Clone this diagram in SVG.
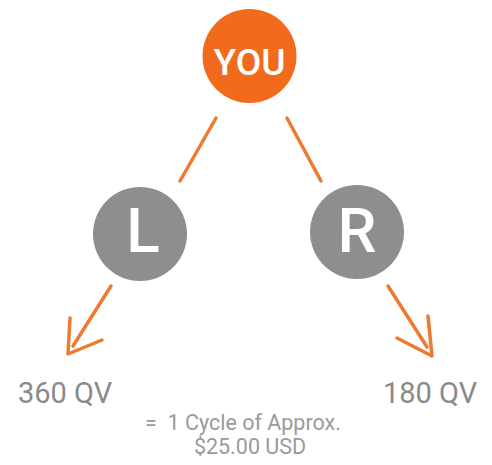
<svg xmlns="http://www.w3.org/2000/svg" width="492" height="465" viewBox="0 0 492 465">
<style>
.line{stroke:#ee7a2f;stroke-width:3.5;fill:none;stroke-linecap:round;stroke-linejoin:round}
.gray{fill:#8e8e8e}
.ctext{font-family:Roboto,"Liberation Sans",sans-serif;fill:#ffffff;text-anchor:middle;font-weight:500}
.lbl{font-family:Roboto,"Liberation Sans",sans-serif;fill:#8a8a8a}
.note{font-family:Roboto,"Liberation Sans",sans-serif;fill:#9a9a9a;text-anchor:middle;font-size:21.5px}
</style>
<rect width="492" height="465" fill="#ffffff"/>
<g id="connectors">
<line class="line" x1="216" y1="118" x2="180" y2="181"/>
<line class="line" x1="287" y1="118" x2="321" y2="181"/>
<line class="line" x1="111" y1="286" x2="73" y2="346"/>
<polyline class="line" points="70,318 68,354 102,340"/>
<line class="line" x1="388" y1="286" x2="427" y2="347"/>
<polyline class="line" points="428,316 432,356 397,338"/>
</g>
<g id="you">
<circle cx="249.5" cy="56" r="47" fill="#f26a1b"/>
<text class="ctext" x="249.5" y="75" font-size="37">YOU</text>
</g>
<g id="left">
<circle class="gray" cx="140" cy="234" r="47"/>
<text class="ctext" x="143" y="252" font-size="62">L</text>
</g>
<g id="right">
<circle class="gray" cx="357" cy="232" r="47"/>
<text class="ctext" x="357" y="252" font-size="62">R</text>
</g>
<text class="lbl" x="18" y="403" font-size="29">360 QV</text>
<text class="lbl" x="383" y="403" font-size="29">180 QV</text>
<text class="note" x="243" y="430" xml:space="preserve">=  1 Cycle of Approx.</text>
<text class="note" x="250" y="454">$25.00 USD</text>
</svg>
